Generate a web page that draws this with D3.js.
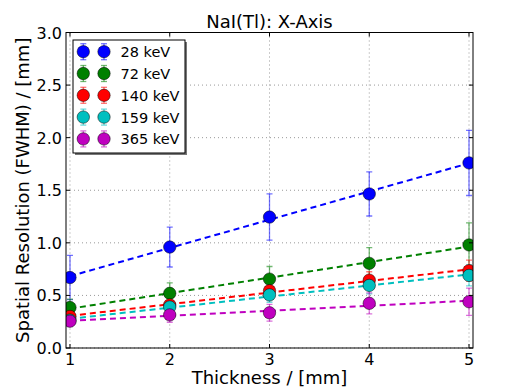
<!DOCTYPE html>
<html><head><meta charset="utf-8">
<script src="https://cdn.jsdelivr.net/npm/d3@7"></script>
<style>body{margin:0;background:#fff;} text{font-family:"DejaVu Sans",sans-serif;}</style>
</head><body>
<svg id="c" width="509" height="388"></svg>
<script>
const thickness = [1, 2, 3, 4, 5];
const seriesNames = ["28 keV", "72 keV", "140 keV", "159 keV", "365 keV"];
const seriesColors = ["#0000ff", "#008000", "#ff0000", "#00bfbf", "#bf00bf"];
const res28 = [0.67, 0.96, 1.245, 1.465, 1.76];
const err28 = [0.21, 0.19, 0.22, 0.21, 0.31];
const res72 = [0.385, 0.52, 0.655, 0.805, 0.98];
const err72 = [0.08, 0.10, 0.12, 0.15, 0.21];
const res140 = [0.30, 0.41, 0.545, 0.645, 0.735];
const err140 = [0.06, 0.06, 0.07, 0.08, 0.10];
const res159 = [0.265, 0.39, 0.505, 0.595, 0.69];
const err159 = [0.06, 0.06, 0.07, 0.08, 0.10];
const res365 = [0.255, 0.315, 0.335, 0.425, 0.44];
const err365 = [0.05, 0.07, 0.08, 0.10, 0.13];
const xTicks = [1, 2, 3, 4, 5];
const yTicks = [0.0, 0.5, 1.0, 1.5, 2.0, 2.5, 3.0];

const series = [res28, res72, res140, res159, res365].map((v, i) => ({
  name: seriesNames[i], color: seriesColors[i], vals: v,
  errs: [err28, err72, err140, err159, err365][i]
}));

const L = 66, R = 473, T = 32.5, B = 348;
const x = d3.scaleLinear().domain([0.96, 5.04]).range([L, R]);
const y = d3.scaleLinear().domain([0, 3]).range([B, T]);
const svg = d3.select("#c");

// grid
const g = svg.append("g");
xTicks.forEach(t => g.append("line").attr("x1", x(t)).attr("x2", x(t)).attr("y1", T).attr("y2", B)
  .attr("stroke", "#999").attr("stroke-dasharray", "1,3").attr("stroke-width", 1));
yTicks.forEach(t => g.append("line").attr("x1", L).attr("x2", R).attr("y1", y(t)).attr("y2", y(t))
  .attr("stroke", "#999").attr("stroke-dasharray", "1,3").attr("stroke-width", 1));

// fits
function fit(xs, ys) {
  const n = xs.length, mx = d3.mean(xs), my = d3.mean(ys);
  let sxy = 0, sxx = 0;
  for (let i = 0; i < n; i++) { sxy += (xs[i]-mx)*(ys[i]-my); sxx += (xs[i]-mx)**2; }
  const m = sxy/sxx; return [m, my - m*mx];
}
svg.append("clipPath").attr("id", "pc").append("rect").attr("x", L).attr("y", T).attr("width", R-L).attr("height", B-T);
const plot = svg.append("g").attr("clip-path", "url(#pc)");

series.forEach(s => {
  const [m, b] = fit(thickness, s.vals);
  plot.append("line").attr("x1", x(1)).attr("x2", x(5)).attr("y1", y(m*1+b)).attr("y2", y(m*5+b))
    .attr("stroke", s.color).attr("stroke-width", 2).attr("stroke-dasharray", "6,4");
});
series.forEach(s => {
  thickness.forEach((t, i) => {
    const v = s.vals[i], e = s.errs[i];
    const eg = plot.append("g").attr("stroke", s.color).attr("stroke-opacity", 0.55).attr("stroke-width", 1.3);
    eg.append("line").attr("x1", x(t)).attr("x2", x(t)).attr("y1", y(v-e)).attr("y2", y(v+e));
    eg.append("line").attr("x1", x(t)-3).attr("x2", x(t)+3).attr("y1", y(v-e)).attr("y2", y(v-e));
    eg.append("line").attr("x1", x(t)-3).attr("x2", x(t)+3).attr("y1", y(v+e)).attr("y2", y(v+e));
  });
});
series.forEach(s => {
  plot.selectAll(null).data(thickness).enter().append("circle")
    .attr("cx", d => x(d)).attr("cy", (d, i) => y(s.vals[i])).attr("r", 6.2)
    .attr("fill", s.color).attr("stroke", "#000").attr("stroke-width", 0.5);
});

// frame
svg.append("rect").attr("x", L).attr("y", T).attr("width", R-L).attr("height", B-T)
  .attr("fill", "none").attr("stroke", "#000").attr("stroke-width", 1);
// ticks (inward, both sides)
xTicks.forEach(t => {
  svg.append("line").attr("x1", x(t)).attr("x2", x(t)).attr("y1", B).attr("y2", B-4).attr("stroke", "#000");
  svg.append("line").attr("x1", x(t)).attr("x2", x(t)).attr("y1", T).attr("y2", T+4).attr("stroke", "#000");
  svg.append("text").attr("x", x(t)).attr("y", B+17).attr("text-anchor", "middle").attr("font-size", 16).text(d3.format("d")(t));
});
yTicks.forEach(t => {
  svg.append("line").attr("x1", L).attr("x2", L+4).attr("y1", y(t)).attr("y2", y(t)).attr("stroke", "#000");
  svg.append("line").attr("x1", R).attr("x2", R-4).attr("y1", y(t)).attr("y2", y(t)).attr("stroke", "#000");
  svg.append("text").attr("x", L-4).attr("y", y(t)+6).attr("text-anchor", "end").attr("font-size", 16).text(d3.format(".1f")(t));
});

// labels
svg.append("text").attr("x", (L+R)/2).attr("y", 28).attr("text-anchor", "middle").attr("font-size", 18).text("NaI(Tl): X-Axis");
svg.append("text").attr("x", (L+R)/2).attr("y", 384).attr("text-anchor", "middle").attr("font-size", 18).text("Thickness / [mm]");
svg.append("text").attr("transform", `translate(29,${(T+B)/2 + 0}) rotate(-90)`).attr("text-anchor", "middle").attr("font-size", 18).text("Spatial Resolution (FWHM) / [mm]");

// legend
const lx = 73, ly = 40, lw = 112, lh = 113;
svg.append("rect").attr("x", lx+2).attr("y", ly+2).attr("width", lw).attr("height", lh).attr("fill", "#777");
svg.append("rect").attr("x", lx).attr("y", ly).attr("width", lw).attr("height", lh).attr("fill", "#fff").attr("stroke", "#000").attr("stroke-width", 1);
series.forEach((s, i) => {
  const yy = ly + 11.7 + i*21.8;
  [83.3, 104].forEach(cx => {
    const eg = svg.append("g").attr("stroke", s.color).attr("stroke-opacity", 0.55).attr("stroke-width", 1.3);
    eg.append("line").attr("x1", cx).attr("x2", cx).attr("y1", yy-8).attr("y2", yy+8);
    eg.append("line").attr("x1", cx-3).attr("x2", cx+3).attr("y1", yy-8).attr("y2", yy-8);
    eg.append("line").attr("x1", cx-3).attr("x2", cx+3).attr("y1", yy+8).attr("y2", yy+8);
    svg.append("circle").attr("cx", cx).attr("cy", yy).attr("r", 6.2).attr("fill", s.color).attr("stroke", "#000").attr("stroke-width", 0.5);
  });
  svg.append("text").attr("x", 120.5).attr("y", yy+5.5).attr("font-size", 14.5).text(s.name);
});
</script>
</body></html>
